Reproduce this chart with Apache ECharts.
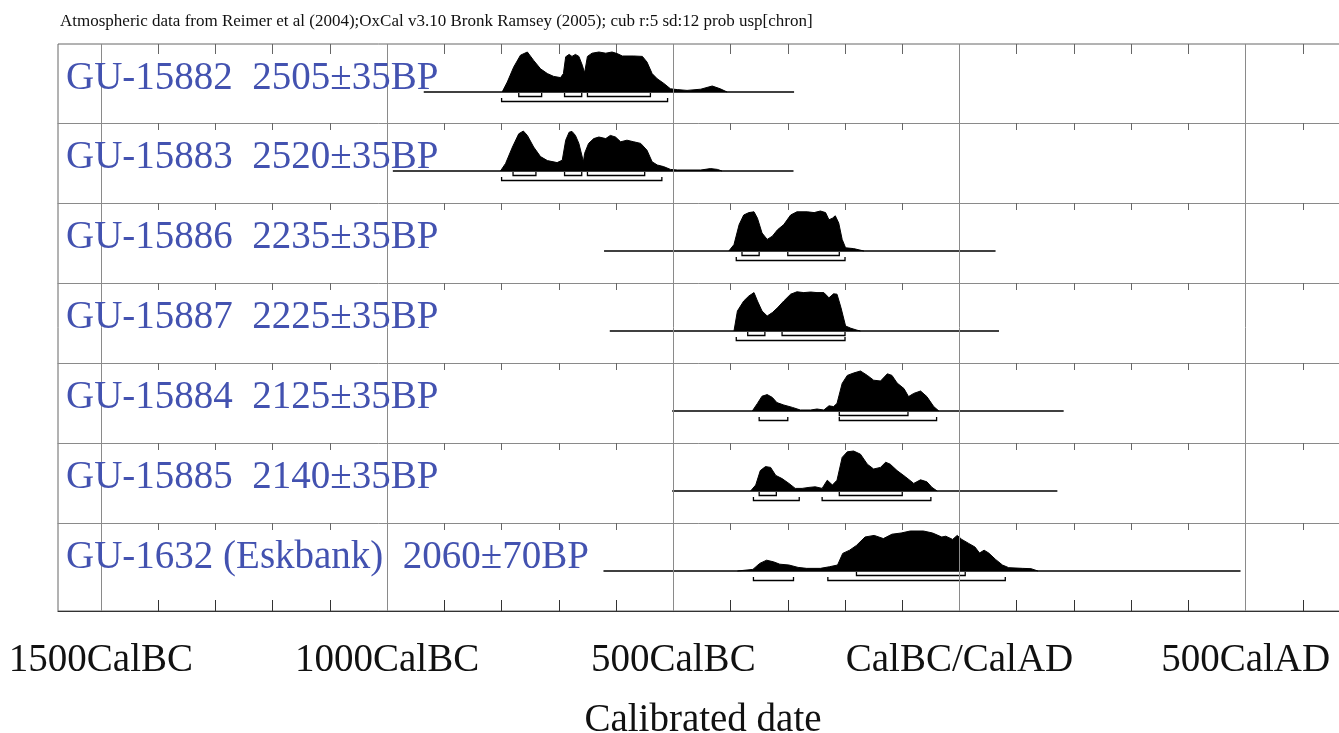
<!DOCTYPE html>
<html>
<head>
<meta charset="utf-8">
<script src="https://cdn.jsdelivr.net/npm/echarts@6/dist/echarts.min.js"></script>
<style>
  html, body { margin: 0; padding: 0; background: #fff; }
  #chart { width: 1339px; height: 733px; }
</style>
</head>
<body>
<div id="chart"></div>
<script>
// axis: calendar years, negative = BC
const xMin = -1575;
const xMax = 684;
const minorTicks = [-1500, -1400, -1300, -1200, -1100, -1000, -900, -800, -700, -600, -500, -400, -300, -200, -100, 0, 100, 200, 300, 400, 500, 600];
const majorTicks = [-1500, -1000, -500, 0, 500];

const sampleLabels = [
  'GU-15882  2505±35BP',
  'GU-15883  2520±35BP',
  'GU-15886  2235±35BP',
  'GU-15887  2225±35BP',
  'GU-15884  2125±35BP',
  'GU-15885  2140±35BP',
  'GU-1632 (Eskbank)  2060±70BP'
];
const lineStart = [-936, -990, -621, -611, -502, -502, -622];
const lineEnd = [-289, -290, 63, 69, 182, 171, 491];

// probability distributions (relative to peak)
const gu15882Years = [-799, -790, -779, -767, -755, -744, -732, -720, -709, -697, -692, -688, -682, -677, -671, -665, -659, -655, -650, -642, -630, -618, -607, -598, -589, -569, -554, -546, -537, -528, -517, -505, -493, -476, -452, -432, -418, -406];
const gu15882Prob = [0, 0.25, 0.62, 0.92, 1.0, 0.79, 0.58, 0.46, 0.39, 0.36, 0.46, 0.88, 0.94, 0.89, 0.94, 0.89, 0.67, 0.48, 0.89, 0.97, 1.0, 0.97, 1.0, 0.96, 0.9, 0.9, 0.89, 0.75, 0.46, 0.33, 0.22, 0.08, 0.06, 0.04, 0.07, 0.15, 0.08, 0];
const gu15882R68 = [[-770, -730], [-690, -660], [-650, -540]];
const gu15882R95 = [[-800, -510]];

const gu15883Years = [-802, -793, -781, -770, -762, -755, -744, -732, -720, -703, -694, -688, -682, -677, -671, -665, -657, -655, -648, -639, -630, -618, -610, -601, -592, -581, -569, -557, -546, -537, -528, -517, -505, -493, -452, -435, -423, -415];
const gu15883Prob = [0, 0.19, 0.6, 0.93, 1.0, 0.89, 0.6, 0.36, 0.26, 0.21, 0.27, 0.77, 0.97, 0.99, 0.89, 0.69, 0.23, 0.44, 0.69, 0.81, 0.85, 0.81, 0.89, 0.85, 0.73, 0.77, 0.73, 0.69, 0.52, 0.23, 0.15, 0.11, 0.04, 0.025, 0.025, 0.06, 0.04, 0];
const gu15883R68 = [[-780, -740], [-690, -660], [-650, -550]];
const gu15883R95 = [[-800, -520]];

const gu15886Years = [-403, -394, -385, -377, -368, -359, -353, -345, -336, -327, -318, -307, -295, -284, -266, -254, -243, -234, -228, -222, -217, -211, -205, -199, -185, -167];
const gu15886Prob = [0, 0.16, 0.66, 0.9, 0.96, 0.98, 0.82, 0.45, 0.29, 0.37, 0.53, 0.66, 0.9, 0.98, 0.98, 0.96, 1.0, 0.96, 0.78, 0.82, 0.88, 0.7, 0.29, 0.08, 0.06, 0];
const gu15886R68 = [[-380, -350], [-300, -210]];
const gu15886R95 = [[-390, -200]];

const gu15887Years = [-394, -388, -377, -368, -359, -353, -345, -336, -327, -318, -307, -295, -284, -272, -260, -249, -237, -228, -220, -214, -207, -199, -190, -179, -173];
const gu15887Prob = [0, 0.5, 0.75, 0.875, 0.96, 0.75, 0.5, 0.375, 0.46, 0.58, 0.75, 0.92, 0.98, 0.96, 0.975, 0.96, 0.96, 0.83, 0.93, 0.92, 0.58, 0.125, 0.07, 0.02, 0];
const gu15887R68 = [[-370, -340], [-310, -200]];
const gu15887R95 = [[-390, -200]];

const gu15884Years = [-362, -353, -345, -336, -327, -319, -307, -292, -278, -260, -249, -237, -228, -220, -214, -205, -196, -185, -173, -161, -150, -138, -126, -118, -109, -97, -89, -80, -68, -57, -45, -36];
const gu15884Prob = [0, 0.19, 0.37, 0.41, 0.34, 0.21, 0.15, 0.09, 0.025, 0.025, 0.05, 0.025, 0.13, 0.11, 0.19, 0.69, 0.89, 0.95, 1.0, 0.89, 0.77, 0.75, 0.93, 0.89, 0.7, 0.56, 0.36, 0.44, 0.5, 0.36, 0.11, 0];
const gu15884R68 = [[-210, -90]];
const gu15884R95 = [[-350, -300], [-210, -40]];

const gu15885Years = [-365, -356, -348, -339, -330, -321, -310, -298, -287, -275, -263, -252, -240, -231, -222, -214, -205, -196, -185, -173, -161, -150, -138, -129, -121, -109, -94, -80, -68, -57, -48, -39];
const gu15885Prob = [0, 0.15, 0.51, 0.61, 0.59, 0.39, 0.31, 0.19, 0.065, 0.065, 0.09, 0.105, 0.065, 0.27, 0.15, 0.27, 0.84, 0.98, 1.0, 0.92, 0.67, 0.55, 0.59, 0.72, 0.67, 0.51, 0.35, 0.19, 0.28, 0.23, 0.09, 0];
const gu15885R68 = [[-350, -320], [-210, -100]];
const gu15885R95 = [[-360, -280], [-240, -50]];

const gu1632Years = [-388, -361, -349, -337, -325, -314, -298, -282, -267, -243, -227, -213, -204, -192, -180, -165, -149, -133, -118, -102, -86, -63, -47, -31, -24, -12, -4, 4, 16, 27, 35, 43, 51, 63, 75, 86, 110, 125, 137];
const gu1632Prob = [0, 0.04, 0.19, 0.27, 0.23, 0.17, 0.15, 0.09, 0.066, 0.066, 0.107, 0.15, 0.44, 0.52, 0.64, 0.85, 0.89, 0.81, 0.92, 0.95, 1.0, 1.0, 0.95, 0.85, 0.87, 0.79, 0.89, 0.79, 0.69, 0.6, 0.45, 0.52, 0.45, 0.29, 0.15, 0.083, 0.066, 0.058, 0];
const gu1632R68 = [[-180, 10]];
const gu1632R95 = [[-360, -290], [-230, 80]];

const yearsList = [gu15882Years, gu15883Years, gu15886Years, gu15887Years, gu15884Years, gu15885Years, gu1632Years];
const probList = [gu15882Prob, gu15883Prob, gu15886Prob, gu15887Prob, gu15884Prob, gu15885Prob, gu1632Prob];
const r68List = [gu15882R68, gu15883R68, gu15886R68, gu15887R68, gu15884R68, gu15885R68, gu1632R68];
const r95List = [gu15882R95, gu15883R95, gu15886R95, gu15887R95, gu15884R95, gu15885R95, gu1632R95];

// layout of the rows
const plotLeft = 58;
const plotRight = -12;   // frame runs off the right edge
const rowTops = [44, 123, 203, 283, 363, 443, 523];
const rowHeights = [79, 80, 80, 80, 80, 80, 88];
const baseOffset = 48;   // px from row top to baseline
const peakPx = 40;       // px height of a peak
const lvl68 = -4.5 / peakPx;
const lvl95 = -9.5 / peakPx;

function yearLabel(v) {
  if (v < 0) return (-v) + 'CalBC';
  if (v === 0) return 'CalBC/CalAD';
  return v + 'CalAD';
}

function renderBracket(params, api) {
  var a = api.coord([api.value(0), api.value(2)]);
  var b = api.coord([api.value(1), api.value(2)]);
  var up = 3.5;
  return {
    type: 'polyline',
    shape: { points: [[a[0], a[1] - up], [a[0], a[1]], [b[0], b[1]], [b[0], b[1] - up]] },
    style: { stroke: '#000', fill: null, lineWidth: 1.3 }
  };
}

var grids = [{
  left: plotLeft, top: 44, right: plotRight, height: 567, outerBoundsMode: 'none', containLabel: false,
  show: true, borderColor: '#666', borderWidth: 1
}];
var xAxes = [{
  type: 'value', gridIndex: 0, position: 'bottom', min: xMin, max: xMax,
  axisLine: { onZero: false, lineStyle: { color: '#333', width: 1.2 } },
  axisTick: { inside: true, length: 11, customValues: minorTicks, lineStyle: { color: '#333' } },
  axisLabel: {
    customValues: majorTicks, formatter: yearLabel, margin: 30,
    fontFamily: 'Liberation Serif', fontSize: 39, color: '#111'
  },
  splitLine: { show: false }
}];
var yAxes = [{ type: 'value', gridIndex: 0, min: 0, max: 1, show: false }];
var series = [{
  type: 'line', xAxisIndex: 0, yAxisIndex: 0, data: [], silent: true,
  markLine: {
    symbol: 'none', silent: true, label: { show: false },
    lineStyle: { color: '#8a8a8a', type: 'solid', width: 1 },
    data: majorTicks.map(function (v) { return { xAxis: v }; })
  }
}];
var graphics = [{
  type: 'text', x: 60, y: 13,
  style: {
    text: 'Atmospheric data from Reimer et al (2004);OxCal v3.10 Bronk Ramsey (2005); cub r:5 sd:12 prob usp[chron]',
    font: '17px "Liberation Serif"', fill: '#111'
  }
}, {
  type: 'text', x: 703, y: 721,
  style: { text: 'Calibrated date', font: '39px "Liberation Serif"', fill: '#111', align: 'center', verticalAlign: 'middle' }
}];

for (var i = 0; i < 7; i++) {
  var g = i + 1;
  grids.push({
    left: plotLeft, top: rowTops[i], right: plotRight, height: rowHeights[i],
    outerBoundsMode: 'none', containLabel: false
  });
  xAxes.push({
    type: 'value', gridIndex: g, position: 'top', min: xMin, max: xMax,
    axisLine: { show: i > 0, onZero: false, lineStyle: { color: '#8a8a8a', width: 1 } },
    axisTick: { inside: true, length: i === 0 ? 10 : 7, customValues: minorTicks, lineStyle: { color: '#666' } },
    axisLabel: { show: false },
    splitLine: { show: false }
  });
  yAxes.push({
    type: 'value', gridIndex: g, show: false,
    min: -(rowHeights[i] - baseOffset) / peakPx, max: baseOffset / peakPx
  });
  series.push({
    type: 'line', xAxisIndex: g, yAxisIndex: g, symbol: 'none', z: 3,
    data: [[lineStart[i], 0], [lineEnd[i], 0]],
    lineStyle: { color: '#000', width: 1.6 }
  });
  series.push({
    type: 'line', xAxisIndex: g, yAxisIndex: g, symbol: 'none', z: 4,
    data: yearsList[i].map(function (y, k) { return [y, probList[i][k]]; }),
    lineStyle: { color: '#000', width: 1 },
    areaStyle: { color: '#000', opacity: 1 }
  });
  series.push({
    type: 'custom', xAxisIndex: g, yAxisIndex: g, z: 4,
    renderItem: renderBracket,
    encode: { x: [0, 1], y: 2 },
    data: r68List[i].map(function (r) { return [r[0], r[1], lvl68]; })
      .concat(r95List[i].map(function (r) { return [r[0], r[1], lvl95]; }))
  });
  graphics.push({
    type: 'text', x: 66, y: rowTops[i] + 35, z: 10,
    style: { text: sampleLabels[i], font: '39px "Liberation Serif"', fill: '#4352b0', verticalAlign: 'middle' }
  });
}

var chart = echarts.init(document.getElementById('chart'));
chart.setOption({
  backgroundColor: '#fff',
  animation: false,
  grid: grids,
  xAxis: xAxes,
  yAxis: yAxes,
  series: series,
  graphic: graphics
});
window.addEventListener('resize', function () { chart.resize(); });
</script>
</body>
</html>
